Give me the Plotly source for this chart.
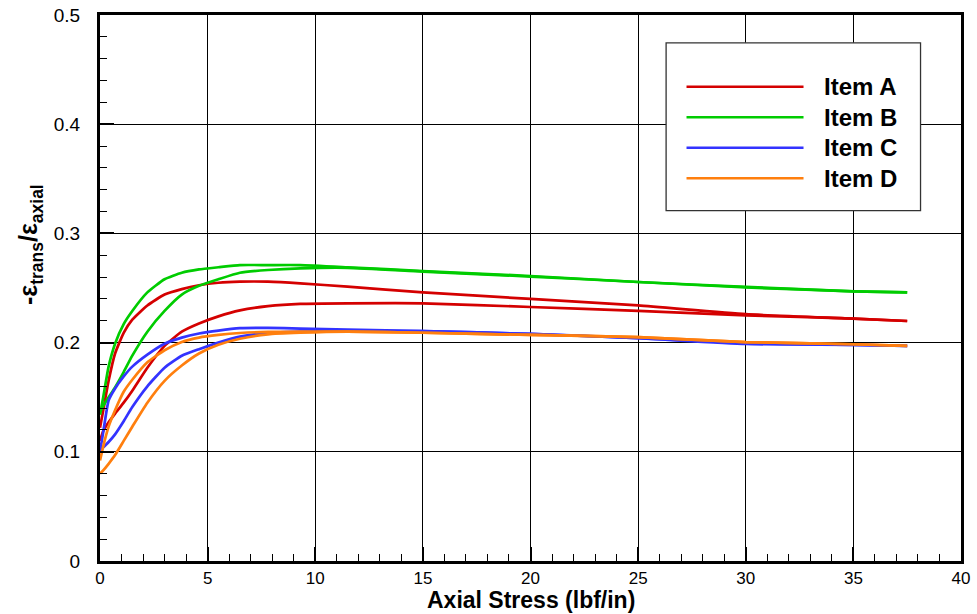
import plotly.graph_objects as go

# Axial stress sample points (lbf/in) shared by all runs
stress = [0, 0.15, 0.4, 0.7, 1.1, 1.5, 2.2, 3.0, 3.8, 4.6, 5.5, 6.5, 7.8, 9.3, 11.5, 15, 20, 25, 30, 35, 37.5]

# Ratio -e_trans/e_axial, two runs per item
item_a_run1 = [0.122, 0.138, 0.165, 0.190, 0.209, 0.221, 0.234, 0.244, 0.249, 0.2525, 0.2548, 0.2558, 0.2558, 0.2543, 0.2512, 0.246, 0.240, 0.234, 0.226, 0.222, 0.2198]
item_a_run2 = [0.110, 0.119, 0.127, 0.135, 0.145, 0.156, 0.177, 0.197, 0.210, 0.2175, 0.224, 0.2295, 0.2334, 0.2355, 0.236, 0.236, 0.2326, 0.229, 0.225, 0.222, 0.2198]
item_b_run1 = [0.134, 0.150, 0.178, 0.199, 0.217, 0.229, 0.246, 0.258, 0.264, 0.267, 0.269, 0.271, 0.271, 0.271, 0.269, 0.2655, 0.261, 0.2555, 0.251, 0.247, 0.246]
item_b_run2 = [0.136, 0.142, 0.150, 0.159, 0.173, 0.188, 0.210, 0.229, 0.244, 0.252, 0.258, 0.264, 0.2665, 0.268, 0.2685, 0.265, 0.2605, 0.2555, 0.2505, 0.247, 0.246]
item_c_run1 = [0.100, 0.118, 0.147, 0.158, 0.169, 0.178, 0.189, 0.199, 0.2046, 0.2083, 0.211, 0.2132, 0.2135, 0.2128, 0.212, 0.2106, 0.208, 0.204, 0.1987, 0.198, 0.197]
item_c_run2 = [0.100, 0.104, 0.109, 0.116, 0.128, 0.141, 0.160, 0.177, 0.188, 0.194, 0.200, 0.2055, 0.2088, 0.210, 0.2105, 0.2105, 0.208, 0.204, 0.1995, 0.198, 0.197]
item_d_run1 = [0.092, 0.105, 0.123, 0.138, 0.155, 0.166, 0.182, 0.193, 0.2006, 0.2046, 0.207, 0.2088, 0.2098, 0.210, 0.210, 0.209, 0.207, 0.205, 0.2005, 0.1985, 0.197]
item_d_run2 = [0.080, 0.083, 0.089, 0.097, 0.110, 0.123, 0.145, 0.165, 0.179, 0.190, 0.198, 0.2035, 0.2076, 0.209, 0.210, 0.209, 0.207, 0.205, 0.2005, 0.1985, 0.197]

item_names = ["Item A", "Item B", "Item C", "Item D"]
item_colors = ["#d40000", "#00cc00", "#3333ff", "#ff7f0e"]
item_runs = [
    (item_a_run1, item_a_run2),
    (item_b_run1, item_b_run2),
    (item_c_run1, item_c_run2),
    (item_d_run1, item_d_run2),
]

x_ticks = [0, 5, 10, 15, 20, 25, 30, 35, 40]
y_ticks = [0, 0.1, 0.2, 0.3, 0.4, 0.5]
y_tick_text = ["0", "0.1", "0.2", "0.3", "0.4", "0.5"]

fig = go.Figure()
for name, color, runs in zip(item_names, item_colors, item_runs):
    for run in runs:
        fig.add_trace(go.Scatter(
            x=stress, y=run, mode="lines", name=name, showlegend=False,
            line=dict(color=color, width=2.7, shape="spline", smoothing=0.5),
        ))

# Boxed legend with long line samples
legend_left, legend_right = 0.6575, 0.953
legend_bottom, legend_top = 0.6416, 0.949
row_y = [0.8687, 0.8126, 0.757, 0.701]
shapes = [dict(type="rect", xref="paper", yref="paper",
               x0=legend_left, x1=legend_right, y0=legend_bottom, y1=legend_top,
               line=dict(color="#333333", width=1.3), fillcolor="white", layer="above")]
annotations = []
for name, color, yy in zip(item_names, item_colors, row_y):
    shapes.append(dict(type="line", xref="paper", yref="paper",
                       x0=0.6812, x1=0.8171, y0=yy, y1=yy,
                       line=dict(color=color, width=2.6), layer="above"))
    annotations.append(dict(xref="paper", yref="paper", x=0.8389, y=yy,
                            xanchor="left", yanchor="middle", showarrow=False,
                            text="<b>%s</b>" % name,
                            font=dict(family="Liberation Sans, Arial, sans-serif", size=24, color="black")))

# Axis titles
annotations.append(dict(xref="paper", yref="paper", x=-0.0805, y=0.58,
                        xanchor="center", yanchor="middle", showarrow=False, textangle=-90,
                        text="<b>-ε<sub>trans</sub>/ε<sub>axial</sub></b>",
                        font=dict(family="Liberation Sans, Arial, sans-serif", size=25, color="black")))
annotations.append(dict(xref="paper", yref="paper", x=0.5, y=-0.0715,
                        xanchor="center", yanchor="middle", showarrow=False,
                        text="<b>Axial Stress (lbf/in)</b>",
                        font=dict(family="Liberation Sans, Arial, sans-serif", size=23, color="black")))

axis_common = dict(
    showline=True, linecolor="black", linewidth=3, mirror=True,
    showgrid=True, gridcolor="black", gridwidth=1, zeroline=False,
    ticks="inside", ticklen=14, tickwidth=2, tickcolor="black",
    automargin=False,
)

fig.update_layout(
    width=977, height=614,
    margin=dict(l=100, r=16, t=15, b=53),
    plot_bgcolor="white", paper_bgcolor="white",
    showlegend=False,
    shapes=shapes, annotations=annotations,
    xaxis=dict(
        range=[0, 40], tickvals=x_ticks, ticktext=[str(v) for v in x_ticks],
        minor=dict(dtick=1, ticks="inside", ticklen=7, tickwidth=1, tickcolor="black", showgrid=False),
        tickfont=dict(family="Liberation Sans, Arial, sans-serif", size=17, color="black"),
        ticklabelstandoff=0,
        **axis_common,
    ),
    yaxis=dict(
        range=[0, 0.5], tickvals=y_ticks, ticktext=y_tick_text,
        minor=dict(dtick=0.02, ticks="inside", ticklen=7, tickwidth=1, tickcolor="black", showgrid=False),
        tickfont=dict(family="Liberation Sans, Arial, sans-serif", size=19, color="black"),
        ticklabelstandoff=13,
        **axis_common,
    ),
)

fig.write_html("out.html")
